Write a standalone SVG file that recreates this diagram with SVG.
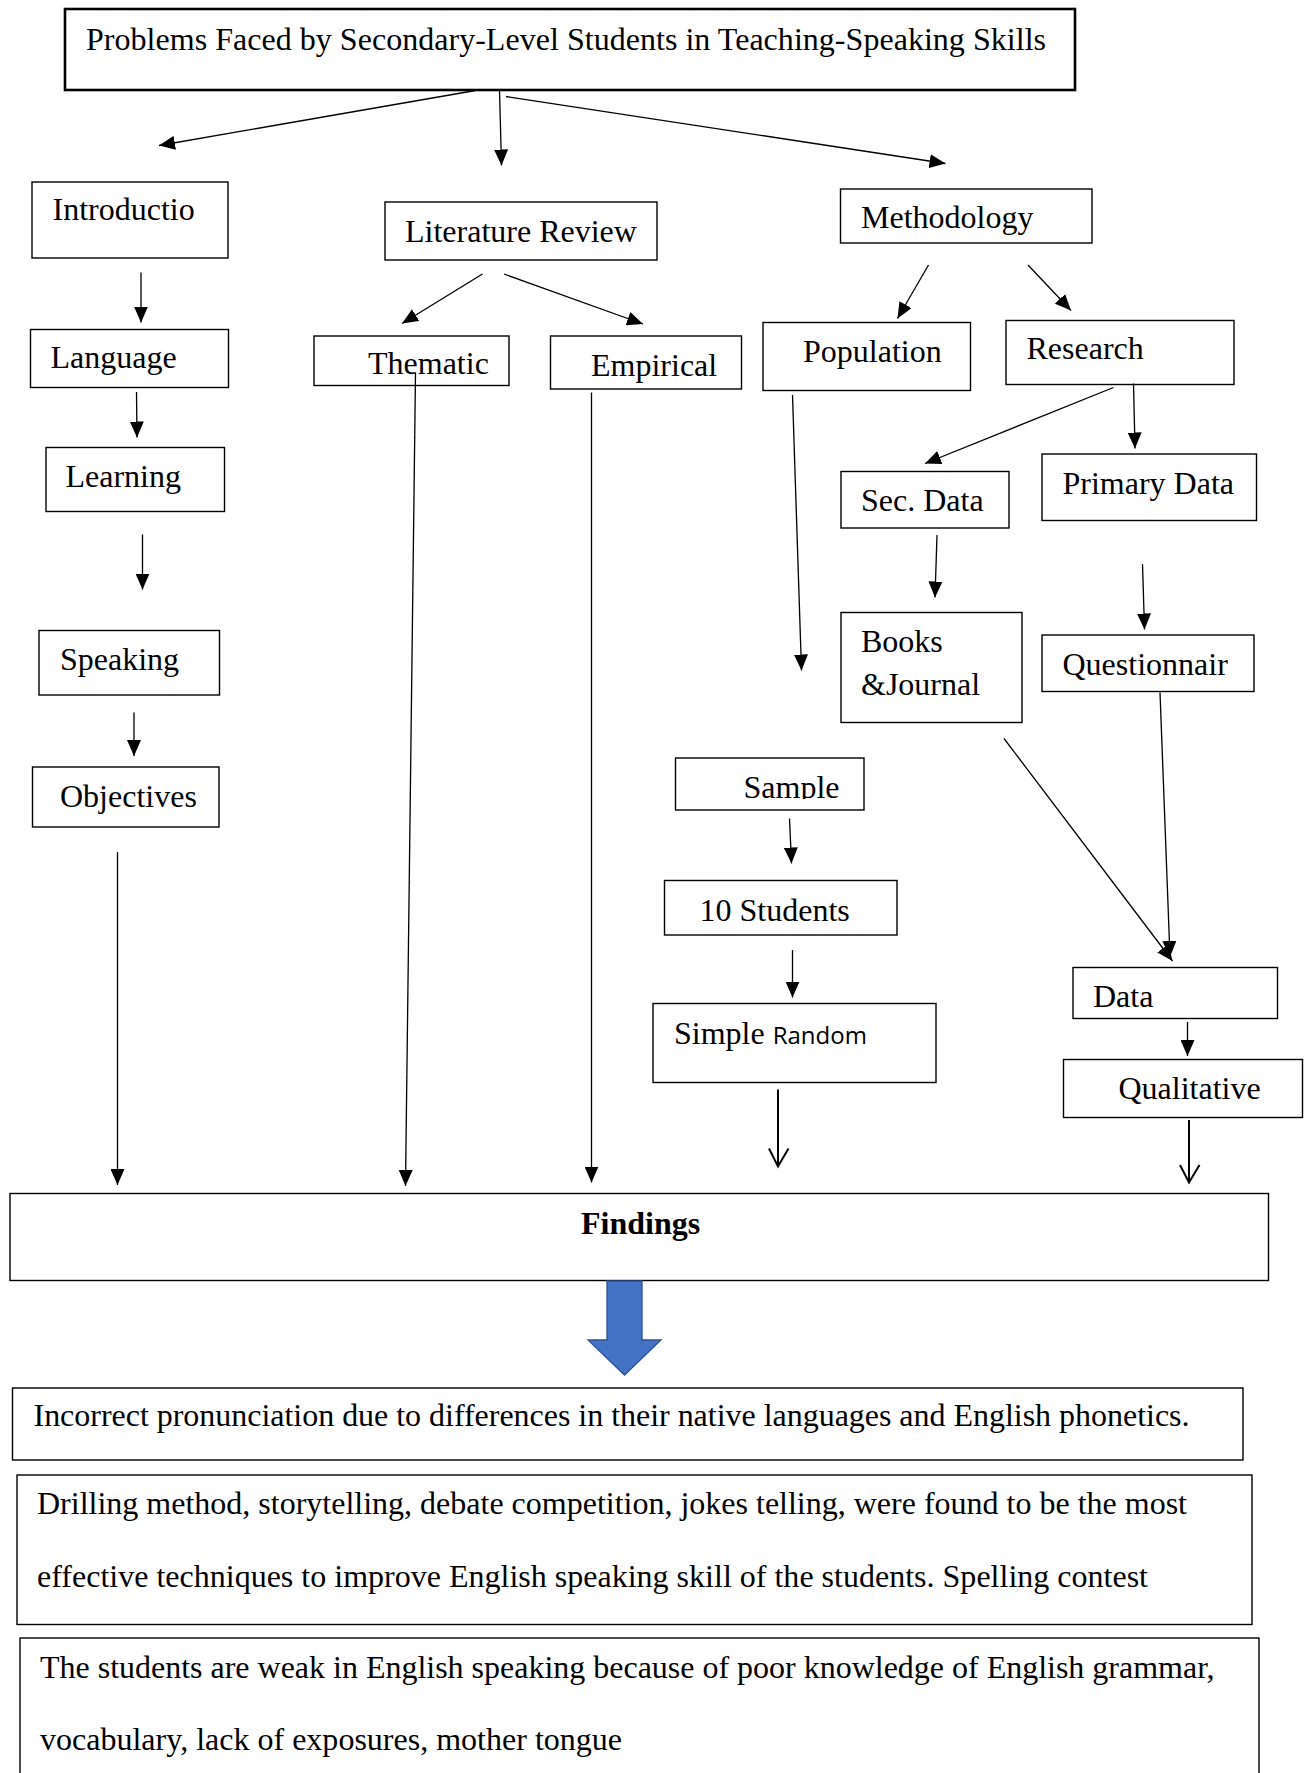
<svg xmlns="http://www.w3.org/2000/svg" width="1309" height="1773" viewBox="0 0 1309 1773">
<style>
  .box { fill: #fff; stroke: #000; stroke-width: 1.4; }
  .tbox { fill: #fff; stroke: #000; stroke-width: 2.6; }
  .t { font-family: "Liberation Serif", "Times New Roman", serif; font-size: 32px; fill: #000; }
  .b { font-weight: bold; }
  .sans { font-family: "Open Sans", "Liberation Sans", Arial, sans-serif; font-size: 24px; fill: #000; }
  .c { fill: none; stroke: #000; stroke-width: 1.3; }
  .c2 { fill: none; stroke: #000; stroke-width: 2; }
</style>
<defs>
  <marker id="ah" markerUnits="userSpaceOnUse" markerWidth="16" markerHeight="14" refX="16" refY="7" orient="auto">
    <path d="M0,0 L16,7 L0,14 z" fill="#000"/>
  </marker>
  <clipPath id="clipSample"><rect x="676" y="759" width="187" height="40"/></clipPath>
</defs>
<rect width="1309" height="1773" fill="#fff"/>

<g id="node-title">
  <rect class="tbox" x="65" y="9" width="1010" height="81"/>
  <text class="t" x="86" y="50" textLength="960">Problems Faced by Secondary-Level Students in Teaching-Speaking Skills</text>
</g>
<g id="node-intro">
  <rect class="box" x="32" y="182" width="196" height="76"/>
  <text class="t" x="52.5" y="220">Introductio</text>
</g>
<g id="node-literature">
  <rect class="box" x="385" y="202" width="272" height="58"/>
  <text class="t" x="405" y="242">Literature Review</text>
</g>
<g id="node-methodology">
  <rect class="box" x="840.5" y="189" width="251.5" height="54"/>
  <text class="t" x="861" y="228">Methodology</text>
</g>
<g id="node-language">
  <rect class="box" x="30.5" y="329.5" width="198" height="58"/>
  <text class="t" x="50.5" y="368">Language</text>
</g>
<g id="node-thematic">
  <rect class="box" x="314" y="336" width="195" height="49.5"/>
  <text class="t" x="368" y="374">Thematic</text>
</g>
<g id="node-empirical">
  <rect class="box" x="550.5" y="336" width="191" height="53"/>
  <text class="t" x="591" y="376">Empirical</text>
</g>
<g id="node-population">
  <rect class="box" x="763" y="322.5" width="207.5" height="68"/>
  <text class="t" x="803" y="362">Population</text>
</g>
<g id="node-research">
  <rect class="box" x="1006" y="320.5" width="228" height="64"/>
  <text class="t" x="1026.5" y="359">Research</text>
</g>
<g id="node-learning">
  <rect class="box" x="46" y="447.5" width="178.5" height="64"/>
  <text class="t" x="65.5" y="487">Learning</text>
</g>
<g id="node-secdata">
  <rect class="box" x="841" y="471.5" width="168" height="56.5"/>
  <text class="t" x="861" y="511">Sec. Data</text>
</g>
<g id="node-primary">
  <rect class="box" x="1042" y="454" width="214.5" height="66.5"/>
  <text class="t" x="1062.5" y="494">Primary Data</text>
</g>
<g id="node-books">
  <rect class="box" x="841" y="612.5" width="181" height="110"/>
  <text class="t" x="861" y="652">Books</text>
  <text class="t" x="861" y="694.5">&amp;Journal</text>
</g>
<g id="node-speaking">
  <rect class="box" x="39" y="630.5" width="180.5" height="64.5"/>
  <text class="t" x="60" y="670">Speaking</text>
</g>
<g id="node-questionnair">
  <rect class="box" x="1042" y="635" width="212" height="56.5"/>
  <text class="t" x="1062.5" y="674.5">Questionnair</text>
</g>
<g id="node-sample">
  <rect class="box" x="675.5" y="758" width="188.5" height="52"/>
  <text class="t" x="743.5" y="797.5" clip-path="url(#clipSample)">Sample</text>
</g>
<g id="node-objectives">
  <rect class="box" x="32.5" y="767" width="186.5" height="60"/>
  <text class="t" x="60" y="807">Objectives</text>
</g>
<g id="node-students">
  <rect class="box" x="664.5" y="880.5" width="232.5" height="54.5"/>
  <text class="t" x="699.5" y="921">10 Students</text>
</g>
<g id="node-data">
  <rect class="box" x="1073" y="967.5" width="204.5" height="51"/>
  <text class="t" x="1093" y="1007">Data</text>
</g>
<g id="node-simplerandom">
  <rect class="box" x="653" y="1003.5" width="283" height="79"/>
  <text x="674" y="1043.5"><tspan class="t">Simple </tspan><tspan class="sans">Random</tspan></text>
</g>
<g id="node-qualitative">
  <rect class="box" x="1063.5" y="1059.5" width="239" height="58"/>
  <text class="t" x="1118.5" y="1098.5">Qualitative</text>
</g>
<g id="node-findings">
  <rect class="box" x="10" y="1193.5" width="1258.5" height="87"/>
  <text class="t b" x="581" y="1234">Findings</text>
</g>
<g id="node-blockarrow">
  <path d="M607,1281 L642,1281 L642,1340 L661,1340 L624.5,1375 L588,1340 L607,1340 z" fill="#4472C4" stroke="#2F528F" stroke-width="1.3"/>
</g>
<g id="node-finding1">
  <rect class="box" x="12.5" y="1388" width="1230.5" height="72"/>
  <text class="t" x="33.5" y="1426" textLength="1156">Incorrect pronunciation due to differences in their native languages and English phonetics.</text>
</g>
<g id="node-finding2">
  <rect class="box" x="17" y="1475" width="1235" height="149.5"/>
  <text class="t" x="37" y="1514" textLength="1150">Drilling method, storytelling, debate competition, jokes telling, were found to be the most</text>
  <text class="t" x="37" y="1587" textLength="1111">effective techniques to improve English speaking skill of the students. Spelling contest</text>
</g>
<g id="node-finding3">
  <rect class="box" x="20" y="1638" width="1239" height="160"/>
  <text class="t" x="40" y="1677.5" textLength="1174.5">The students are weak in English speaking because of poor knowledge of English grammar,</text>
  <text class="t" x="40" y="1750" textLength="582">vocabulary, lack of exposures, mother tongue</text>
</g>

<g id="connectors">
  <line class="c" x1="475.5" y1="90.5" x2="159" y2="145.5" marker-end="url(#ah)"/>
  <line class="c" x1="499.5" y1="90.5" x2="501.5" y2="165.5" marker-end="url(#ah)"/>
  <line class="c" x1="506" y1="96.5" x2="945.5" y2="163.5" marker-end="url(#ah)"/>
  <line class="c" x1="141" y1="272.5" x2="141" y2="322.5" marker-end="url(#ah)"/>
  <line class="c" x1="482.5" y1="274" x2="402" y2="323.5" marker-end="url(#ah)"/>
  <line class="c" x1="504" y1="274" x2="643" y2="324" marker-end="url(#ah)"/>
  <line class="c" x1="928.5" y1="265" x2="897.5" y2="318.5" marker-end="url(#ah)"/>
  <line class="c" x1="1028" y1="265" x2="1071" y2="310.5" marker-end="url(#ah)"/>
  <line class="c" x1="136.5" y1="392" x2="137" y2="437.5" marker-end="url(#ah)"/>
  <line class="c" x1="415.5" y1="373" x2="405.5" y2="1186" marker-end="url(#ah)"/>
  <line class="c" x1="591.5" y1="392.5" x2="591.5" y2="1182.5" marker-end="url(#ah)"/>
  <line class="c" x1="792.5" y1="395" x2="801.5" y2="670.5" marker-end="url(#ah)"/>
  <line class="c" x1="1113.5" y1="387.5" x2="925" y2="463.5" marker-end="url(#ah)"/>
  <line class="c" x1="1133.5" y1="383.5" x2="1135" y2="448.5" marker-end="url(#ah)"/>
  <line class="c" x1="142.5" y1="534.5" x2="142.5" y2="589.5" marker-end="url(#ah)"/>
  <line class="c" x1="937" y1="535" x2="935" y2="597.5" marker-end="url(#ah)"/>
  <line class="c" x1="1142.5" y1="564" x2="1144.5" y2="629.5" marker-end="url(#ah)"/>
  <line class="c" x1="134" y1="712.5" x2="134" y2="756" marker-end="url(#ah)"/>
  <line class="c" x1="1004" y1="738.5" x2="1172.5" y2="961" marker-end="url(#ah)"/>
  <line class="c" x1="1160" y1="692.5" x2="1170" y2="957" marker-end="url(#ah)"/>
  <line class="c" x1="789.5" y1="818.5" x2="791.5" y2="863.5" marker-end="url(#ah)"/>
  <line class="c" x1="117.5" y1="852" x2="117.5" y2="1185" marker-end="url(#ah)"/>
  <line class="c" x1="792.5" y1="950" x2="792.5" y2="997.5" marker-end="url(#ah)"/>
  <line class="c" x1="1187.5" y1="1022" x2="1187.5" y2="1056" marker-end="url(#ah)"/>
  <line class="c2" x1="778" y1="1089.5" x2="778" y2="1166.5"/>
  <polyline class="c2" points="769,1148.5 778,1166.5 788.5,1148.5"/>
  <line class="c2" x1="1189" y1="1120" x2="1189" y2="1182.5"/>
  <polyline class="c2" points="1180,1165 1189,1182.5 1199.5,1165"/>
</g>
</svg>
